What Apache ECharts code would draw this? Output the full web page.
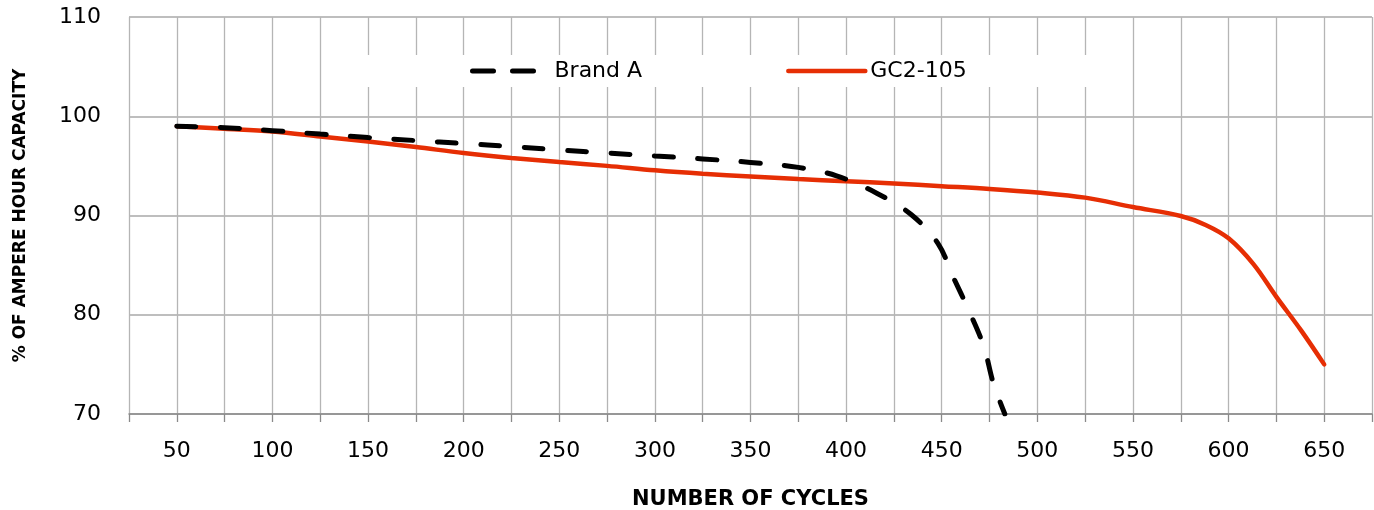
<!DOCTYPE html>
<html>
<head>
<meta charset="utf-8">
<title>Capacity vs cycles</title>
<script src="https://cdn.jsdelivr.net/npm/echarts@6.0.0/dist/echarts.min.js"></script>
<style>
  html, body { margin: 0; padding: 0; background: #fff; }
  #chart { width: 1374px; height: 510px; }
</style>
</head>
<body>
<div id="chart"></div>
<script>
// Brand A (dashed black)
var brandCycles = [50, 75, 100, 125, 150, 175, 200, 225, 250, 275, 300, 325, 350, 375, 395, 416, 434, 448, 456, 464, 472, 477, 483];
var brandValues = [99.0, 98.85, 98.55, 98.2, 97.85, 97.55, 97.25, 96.95, 96.6, 96.3, 96.0, 95.7, 95.35, 94.85, 94.0, 92.25, 90.1, 87.2, 83.8, 80.5, 76.8, 73.1, 70.0];
// GC2-105 (solid red)
var gcCycles = [50, 75, 100, 125, 150, 175, 200, 225, 250, 275, 300, 325, 350, 375, 400, 425, 450, 475, 500, 525, 550, 575, 588, 600, 613, 625, 638, 650];
var gcValues = [99.0, 98.75, 98.47, 97.97, 97.46, 96.9, 96.3, 95.8, 95.38, 95.0, 94.55, 94.2, 93.93, 93.67, 93.45, 93.22, 92.95, 92.68, 92.32, 91.8, 90.85, 89.95, 89.05, 87.7, 85.1, 81.8, 78.4, 75.0];

var FONT = "DejaVu Sans";
var RED = "#e62e04";

function pairs(xs, ys) {
	return xs.map(function (x, i) { return [x, ys[i]]; });
}

var myChart = echarts.init(document.getElementById("chart"));
var option = {
	animation: false,
	textStyle: { fontFamily: FONT, color: "#000" },
	grid: {
		left: 129,
		right: 2,
		top: 17,
		bottom: 96,
		outerBoundsMode: "none"
	},
	legend: {
		left: 330,
		top: 55,
		padding: [5, 148, 5, 140],
		backgroundColor: "#fff",
		itemWidth: 77,
		itemHeight: 14,
		itemGap: 144,
		itemStyle: { opacity: 0 },
		textStyle: { fontFamily: FONT, fontSize: 22, color: "#000" },
		data: [
			{ name: "Brand A", lineStyle: { type: [21, 19], cap: "round", width: 5, color: "#000", opacity: 1 } },
			{ name: "GC2-105", lineStyle: { type: "solid", cap: "round", width: 4.5, color: RED, opacity: 1 } }
		]
	},
	xAxis: {
		type: "value",
		min: 25,
		max: 675,
		interval: 25,
		name: "NUMBER OF CYCLES",
		nameLocation: "middle",
		nameGap: 75,
		nameTextStyle: { fontFamily: FONT, fontWeight: "bold", fontSize: 21, color: "#000" },
		axisLine: { show: true, onZero: false, lineStyle: { color: "#8a8a8a", width: 1.5 } },
		axisTick: { show: true, length: 8, lineStyle: { color: "#8a8a8a", width: 1.3 } },
		axisLabel: {
			margin: 26,
			fontFamily: FONT,
			fontSize: 22,
			color: "#000",
			formatter: function (v) {
				return (v % 50 === 0 && v >= 50 && v <= 650) ? String(v) : "";
			}
		},
		splitLine: { show: true, lineStyle: { color: "#b5b5b5", width: 1.3 } }
	},
	yAxis: {
		type: "value",
		min: 70,
		max: 110,
		interval: 10,
		name: "% OF AMPERE HOUR CAPACITY",
		nameLocation: "middle",
		nameRotate: 90,
		nameGap: 100,
		nameTextStyle: { fontFamily: FONT, fontWeight: "bold", fontSize: 17, color: "#000" },
		axisLine: { show: false },
		axisTick: { show: false },
		axisLabel: { margin: 28, fontFamily: FONT, fontSize: 22, color: "#000" },
		splitLine: { show: true, lineStyle: { color: "#a8a8a8", width: 1.5 } }
	},
	series: [
		{
			name: "Brand A",
			type: "line",
			data: pairs(brandCycles, brandValues),
			smooth: 0.35,
			symbol: "none",
			z: 3,
			lineStyle: { color: "#000", width: 5, type: [19, 24.5], cap: "round" },
			itemStyle: { color: "#000" }
		},
		{
			name: "GC2-105",
			type: "line",
			data: pairs(gcCycles, gcValues),
			smooth: 0.35,
			symbol: "none",
			z: 2,
			lineStyle: { color: RED, width: 4.5, cap: "round" },
			itemStyle: { color: RED }
		}
	]
};
myChart.setOption(option);
</script>
</body>
</html>
